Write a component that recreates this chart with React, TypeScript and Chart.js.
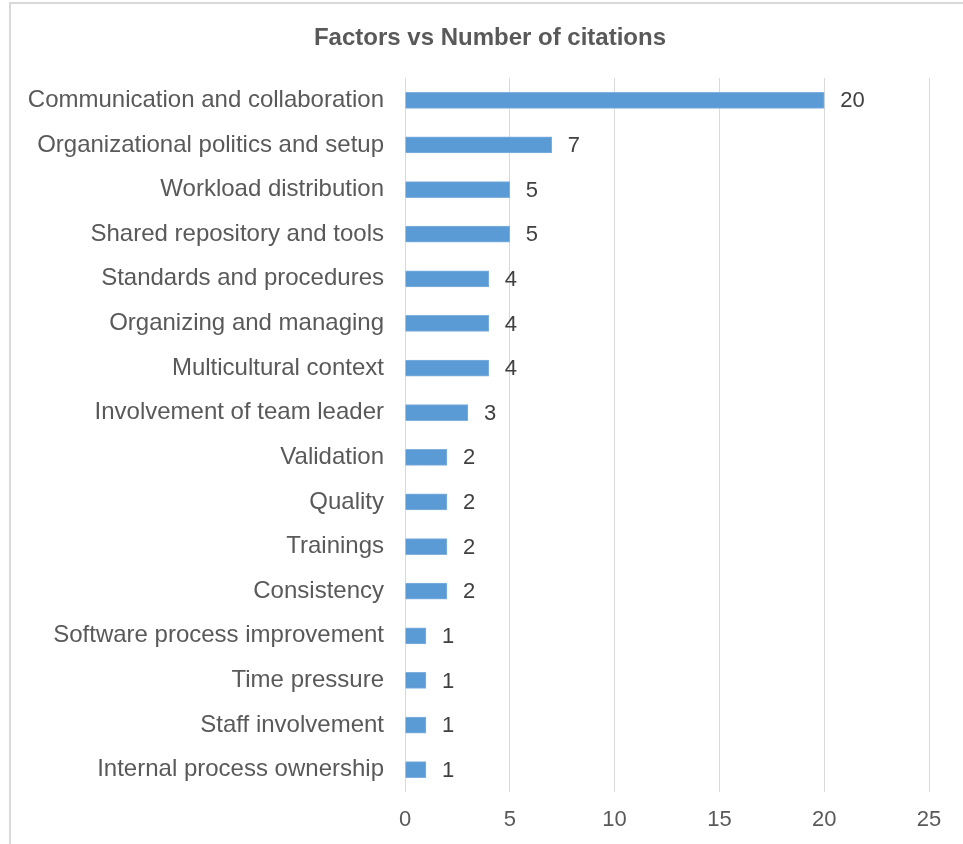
import React, { useEffect, useRef } from "react";
import { Chart, registerables } from "chart.js";

Chart.register(...registerables);

const categories: string[] = [
  "Communication and collaboration",
  "Organizational politics and setup",
  "Workload distribution",
  "Shared repository and tools",
  "Standards and procedures",
  "Organizing and managing",
  "Multicultural context",
  "Involvement of team leader",
  "Validation",
  "Quality",
  "Trainings",
  "Consistency",
  "Software process improvement",
  "Time pressure",
  "Staff involvement",
  "Internal process ownership",
];

const citations: number[] = [20, 7, 5, 5, 4, 4, 4, 3, 2, 2, 2, 2, 1, 1, 1, 1];

const xTicks: number[] = [0, 5, 10, 15, 20, 25];

const chartTitle = "Factors vs Number of citations";

const FONT = "'Liberation Sans', Arial, sans-serif";
const TEXT = "#595959";

const titlePlugin = {
  id: "customTitle",
  afterDraw(chart: any) {
    const ctx = chart.ctx;
    ctx.save();
    ctx.font = `bold 24px ${FONT}`;
    ctx.fillStyle = TEXT;
    ctx.textAlign = "center";
    ctx.textBaseline = "middle";
    ctx.fillText(chartTitle, 490, 38);
    ctx.restore();
  },
};

const valueLabelPlugin = {
  id: "valueLabels",
  afterDatasetsDraw(chart: any) {
    const ctx = chart.ctx;
    const meta = chart.getDatasetMeta(0);
    ctx.save();
    ctx.font = `22px ${FONT}`;
    ctx.fillStyle = "#404040";
    ctx.textAlign = "left";
    ctx.textBaseline = "middle";
    meta.data.forEach((bar: any, i: number) => {
      ctx.fillText(String(citations[i]), bar.x + 16, bar.y + 1);
    });
    ctx.restore();
  },
};

export default function App() {
  const ref = useRef<HTMLCanvasElement | null>(null);

  useEffect(() => {
    if (!ref.current) return;
    const chart = new Chart(ref.current, {
      type: "bar",
      data: {
        labels: categories,
        datasets: [
          {
            data: citations,
            backgroundColor: "#5B9BD5",
            borderColor: "#7FB0DE",
            borderWidth: 1,
            barThickness: 16,
          },
        ],
      },
      options: {
        indexAxis: "y",
        animation: false,
        responsive: false,
        maintainAspectRatio: false,
        layout: { padding: { top: 78, right: 34, left: 0, bottom: 0 } },
        plugins: {
          legend: { display: false },
          title: { display: false },
          tooltip: { enabled: false },
        },
        scales: {
          x: {
            min: 0,
            max: 25,
            afterBuildTicks(scale: any) {
              scale.ticks = xTicks.map((v) => ({ value: v }));
            },
            afterFit(scale: any) {
              scale.height = 844 - 78 - 714;
            },
            grid: { color: "#d9d9d9", lineWidth: 1, drawTicks: false },
            border: { display: false },
            ticks: {
              color: TEXT,
              font: { family: FONT, size: 22 },
              padding: 15,
            },
          },
          y: {
            afterFit(scale: any) {
              scale.width = 405;
            },
            grid: { display: false, drawTicks: false },
            border: { display: false },
            ticks: {
              color: TEXT,
              font: { family: FONT, size: 24 },
              padding: 21,
              autoSkip: false,
            },
          },
        },
      },
      plugins: [titlePlugin, valueLabelPlugin],
    });
    return () => chart.destroy();
  }, []);

  return (
    <div
      style={{
        position: "fixed",
        left: 0,
        top: 0,
        width: 963,
        height: 844,
        overflow: "hidden",
        background: "#ffffff",
      }}
    >
      <canvas
        ref={ref}
        width={963}
        height={844}
        style={{ position: "absolute", left: 0, top: 0, width: 963, height: 844 }}
      />
      <div
        style={{
          position: "absolute",
          left: 9,
          top: 2,
          width: 1000,
          height: 1000,
          border: "2px solid #d9d9d9",
          pointerEvents: "none",
        }}
      />
    </div>
  );
}
